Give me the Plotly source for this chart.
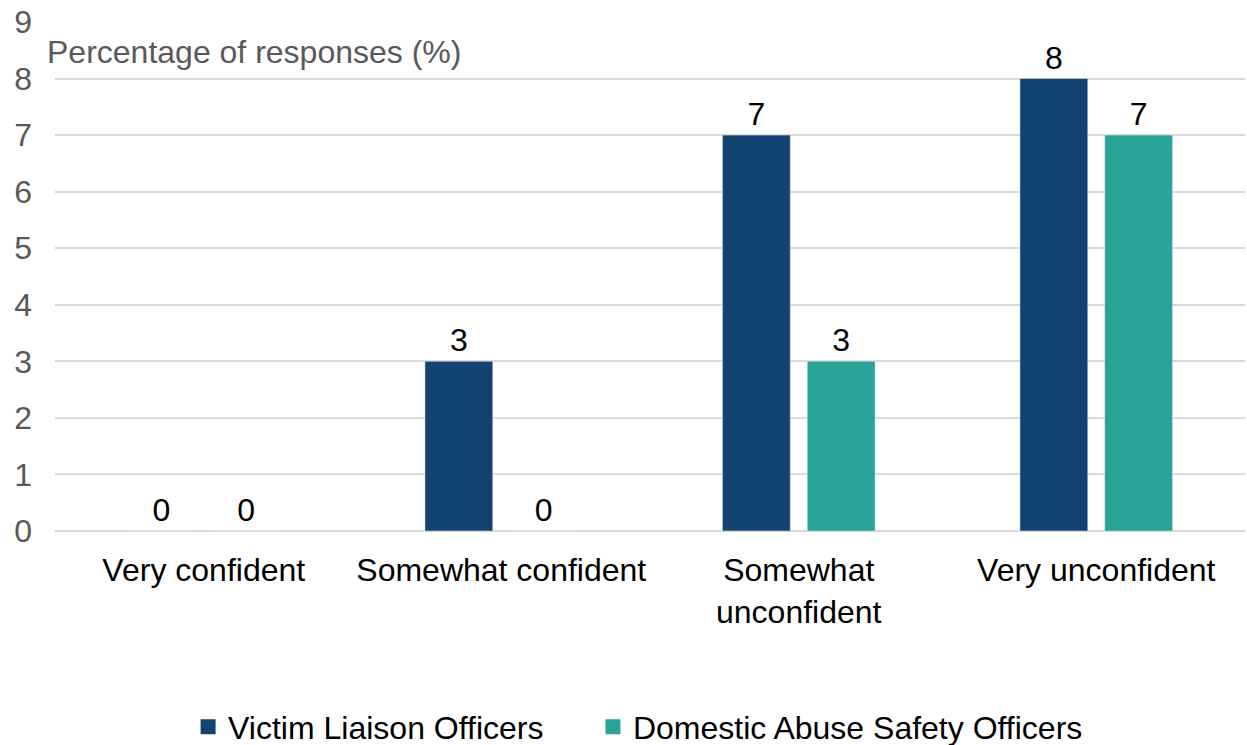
import plotly.graph_objects as go

categories = ["Very confident", "Somewhat confident", "Somewhat<br>unconfident", "Very unconfident"]
vlo_values = [0, 3, 7, 8]
daso_values = [0, 0, 3, 7]
series_names = ["Victim Liaison Officers", "Domestic Abuse Safety Officers"]
y_ticks = list(range(0, 10))

FONT = "Liberation Sans, Arial, sans-serif"
dark = "#134370"
teal = "#27A398"

fig = go.Figure()
fig.add_trace(go.Bar(x=categories, y=vlo_values, name=series_names[0], marker_color=dark,
                     text=vlo_values, textposition="outside", cliponaxis=False, showlegend=False,
                     textfont=dict(size=32, color="#000000", family=FONT)))
fig.add_trace(go.Bar(x=categories, y=daso_values, name=series_names[1], marker_color=teal,
                     text=daso_values, textposition="outside", cliponaxis=False, showlegend=False,
                     textfont=dict(size=32, color="#000000", family=FONT)))
# legend entries with larger square swatches
pads = ["\u00a0" * 5, ""]
for name, col, pad in zip(series_names, [dark, teal], pads):
    fig.add_trace(go.Scatter(x=[None], y=[None], mode="markers", name=name + pad,
                             marker=dict(symbol="square", size=15, color=col)))

fig.update_layout(
    width=1247, height=745,
    margin=dict(l=55, r=2, t=22, b=214, autoexpand=False),
    paper_bgcolor="white", plot_bgcolor="white",
    barmode="group", bargap=0.43, bargroupgap=0.2,
    font=dict(family=FONT, size=32, color="#000000"),
    showlegend=True,
    legend=dict(orientation="h", x=0.49, xanchor="center", y=-0.385, yanchor="middle",
                font=dict(size=32, color="#000000", family=FONT)),
    annotations=[dict(text="Percentage of responses (%)", xref="paper", yref="paper",
                      x=-0.008, y=0.941, xanchor="left", yanchor="middle", showarrow=False,
                      font=dict(size=32, color="#595959", family=FONT))],
)
fig.update_yaxes(range=[0, 9], tickvals=y_ticks, showgrid=True, gridcolor="#d9d9d9", gridwidth=2,
                 zeroline=True, zerolinecolor="#d9d9d9", zerolinewidth=2, automargin=False,
                 tickfont=dict(size=32, color="#595959", family=FONT), ticklabelstandoff=22)
fig.update_xaxes(showline=False, automargin=False,
                 tickfont=dict(size=32, color="#000000", family=FONT), ticklabelstandoff=17)

fig.write_html("out.html")
